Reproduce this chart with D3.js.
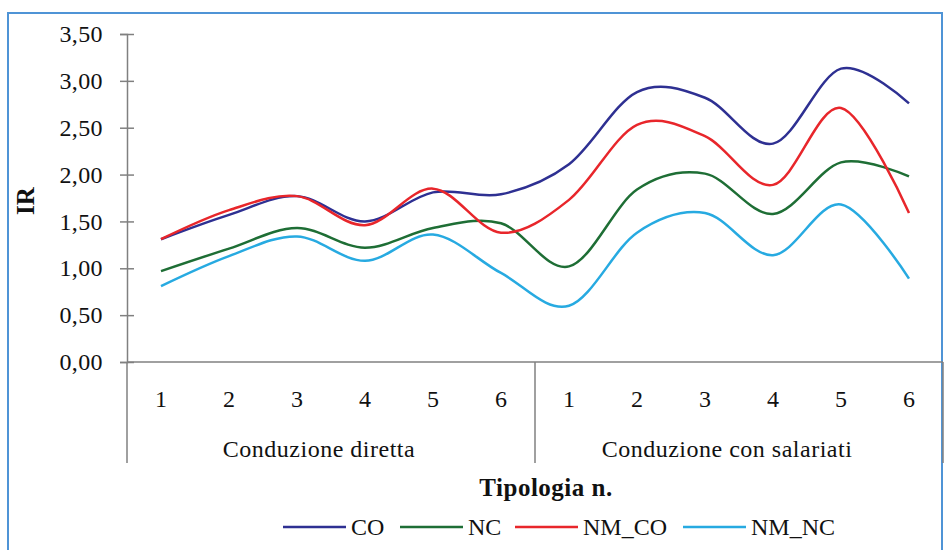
<!DOCTYPE html>
<html>
<head>
<meta charset="utf-8">
<script src="https://cdnjs.cloudflare.com/ajax/libs/d3/7.8.5/d3.min.js"></script>
<style>
  body { margin: 0; background: #fff; }
</style>
</head>
<body>
<div id="chart"></div>
<script>
// data
var cats = ["1", "2", "3", "4", "5", "6", "1", "2", "3", "4", "5", "6"];
var groups = ["Conduzione diretta", "Conduzione con salariati"];
var yTicks = [0, 0.5, 1, 1.5, 2, 2.5, 3, 3.5];

var CO    = [1.31, 1.57, 1.77, 1.50, 1.81, 1.79, 2.11, 2.88, 2.82, 2.33, 3.13, 2.76];
var NC    = [0.97, 1.21, 1.43, 1.22, 1.43, 1.48, 1.02, 1.84, 2.01, 1.58, 2.13, 1.98];
var NM_CO = [1.31, 1.62, 1.77, 1.46, 1.85, 1.38, 1.73, 2.53, 2.41, 1.89, 2.71, 1.59];
var NM_NC = [0.81, 1.13, 1.34, 1.08, 1.36, 0.95, 0.60, 1.38, 1.59, 1.14, 1.68, 0.89];

var seriesNames = ["CO", "NC", "NM_CO", "NM_NC"];
var seriesVals = [CO, NC, NM_CO, NM_NC];
var colors = ["#2E3092", "#1E6E35", "#E8262B", "#27AAE1"];

var width = 944, height = 550;
var plotLeft = 127, plotRight = 943, plotTop = 34, plotBottom = 362;
var font = "'Liberation Serif', 'Times New Roman', serif";
var fs = 24;

var svg = d3.select("#chart").append("svg")
    .attr("width", width)
    .attr("height", height)
    .attr("font-family", font);

// outer frame
svg.append("rect")
    .attr("x", 8).attr("y", 13)
    .attr("width", 934).attr("height", 580)
    .attr("fill", "none")
    .attr("stroke", "#4F94D6")
    .attr("stroke-width", 2);

var x = d3.scaleBand()
    .domain(d3.range(cats.length))
    .range([plotLeft, plotRight]);

var y = d3.scaleLinear()
    .domain([0, 3.5])
    .range([plotBottom, plotTop]);

// y axis
var yAxis = svg.append("g")
    .attr("transform", "translate(" + plotLeft + ",0)")
    .call(d3.axisLeft(y)
        .tickValues(yTicks)
        .tickSize(7)
        .tickPadding(17)
        .tickFormat(function(d){ return d3.format(".2f")(d).replace(".", ","); }));
yAxis.attr("font-family", font);
yAxis.select(".domain").attr("stroke", "#808080").attr("stroke-width", 1.5);
yAxis.selectAll(".tick line").attr("x1", 7).attr("stroke", "#808080").attr("stroke-width", 1.5);
yAxis.selectAll(".tick text").attr("font-size", fs).attr("letter-spacing", 0.4).attr("fill", "#111");

// category axis
var xAxis = svg.append("g")
    .attr("transform", "translate(0," + plotBottom + ")")
    .call(d3.axisBottom(x)
        .tickSize(0)
        .tickPadding(28)
        .tickFormat(function(i){ return cats[i]; }));
xAxis.attr("font-family", font);
xAxis.select(".domain").remove();
xAxis.selectAll(".tick text").attr("font-size", fs).attr("fill", "#111");

svg.append("line")
    .attr("x1", plotLeft).attr("x2", plotRight)
    .attr("y1", plotBottom).attr("y2", plotBottom)
    .attr("stroke", "#808080").attr("stroke-width", 1.5);

// group separators and labels
var seps = [x(0), x(6), x.range()[1]];
svg.selectAll(".sep")
    .data(seps)
  .enter().append("line")
    .attr("class", "sep")
    .attr("x1", function(d){ return d; })
    .attr("x2", function(d){ return d; })
    .attr("y1", plotBottom)
    .attr("y2", 463)
    .attr("stroke", "#808080")
    .attr("stroke-width", 1.5);

svg.selectAll(".grp")
    .data(groups)
  .enter().append("text")
    .attr("class", "grp")
    .attr("x", function(d, i){ return (seps[i] + seps[i + 1]) / 2 - 12; })
    .attr("y", 457)
    .attr("text-anchor", "middle")
    .attr("font-size", fs)
    .attr("letter-spacing", 0.5)
    .attr("fill", "#111")
    .text(function(d){ return d; });

// axis titles
svg.append("text")
    .attr("x", 546).attr("y", 496)
    .attr("text-anchor", "middle")
    .attr("font-size", 25)
    .attr("font-weight", "bold")
    .attr("letter-spacing", 0.5)
    .attr("fill", "#111")
    .text("Tipologia n.");

svg.append("text")
    .attr("transform", "translate(34,201) rotate(-90)")
    .attr("text-anchor", "middle")
    .attr("font-size", 25)
    .attr("font-weight", "bold")
    .attr("fill", "#111")
    .text("IR");

// lines
var line = d3.line()
    .x(function(d, i){ return x(i) + x.bandwidth() / 2; })
    .y(function(d){ return y(d); })
    .curve(d3.curveCatmullRom.alpha(0));

svg.selectAll(".series")
    .data(seriesVals)
  .enter().append("path")
    .attr("class", "series")
    .attr("d", line)
    .attr("fill", "none")
    .attr("stroke", function(d, i){ return colors[i]; })
    .attr("stroke-width", 2.5);

// legend
var legX = [283, 400, 515, 683];
var leg = svg.selectAll(".leg")
    .data(seriesNames)
  .enter().append("g")
    .attr("class", "leg")
    .attr("transform", function(d, i){ return "translate(" + legX[i] + ",527)"; });
leg.append("line")
    .attr("x1", 0).attr("x2", 63)
    .attr("stroke", function(d, i){ return colors[i]; })
    .attr("stroke-width", 2.5);
leg.append("text")
    .attr("x", 68).attr("y", 8)
    .attr("font-size", fs)
    .attr("fill", "#111")
    .text(function(d){ return d; });
</script>
</body>
</html>
